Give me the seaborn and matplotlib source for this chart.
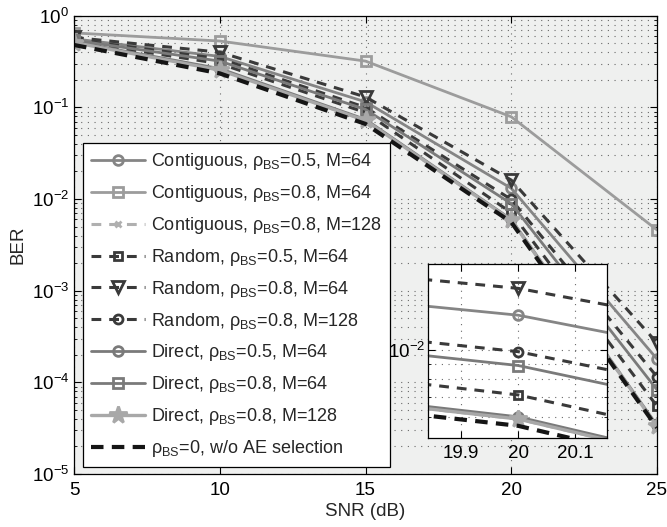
import numpy as np
import pandas as pd
import matplotlib
matplotlib.use("Agg")
import matplotlib.pyplot as plt
import matplotlib.ticker as mticker
import seaborn as sns

# === data ===
snr = [5, 10, 15, 20, 25]
contig_05_64 = [0.56, 0.36, 0.115, 0.0131, 1.8e-4]
contig_08_64 = [0.65, 0.53, 0.32, 0.079, 4.6e-3]
contig_08_128 = [0.52, 0.26, 0.072, 0.0059, 3.3e-5]
random_05_64 = [0.53, 0.30, 0.088, 0.0071, 5.5e-5]
random_08_64 = [0.58, 0.40, 0.13, 0.0161, 2.7e-4]
random_08_128 = [0.55, 0.34, 0.10, 0.0099, 1.15e-4]
direct_05_64 = [0.52, 0.265, 0.074, 0.0060, 3.4e-5]
direct_08_64 = [0.54, 0.32, 0.095, 0.0089, 8.3e-5]
direct_08_128 = [0.51, 0.255, 0.072, 0.0059, 3.3e-5]
no_selection = [0.48, 0.235, 0.066, 0.0056, 3.2e-5]

labels = [
    "Contiguous, ρ$_\\mathregular{BS}$=0.5, M=64",
    "Contiguous, ρ$_\\mathregular{BS}$=0.8, M=64",
    "Contiguous, ρ$_\\mathregular{BS}$=0.8, M=128",
    "Random, ρ$_\\mathregular{BS}$=0.5, M=64",
    "Random, ρ$_\\mathregular{BS}$=0.8, M=64",
    "Random, ρ$_\\mathregular{BS}$=0.8, M=128",
    "Direct, ρ$_\\mathregular{BS}$=0.5, M=64",
    "Direct, ρ$_\\mathregular{BS}$=0.8, M=64",
    "Direct, ρ$_\\mathregular{BS}$=0.8, M=128",
    "ρ$_\\mathregular{BS}$=0, w/o AE selection",
]
series = [contig_05_64, contig_08_64, contig_08_128, random_05_64, random_08_64,
          random_08_128, direct_05_64, direct_08_64, direct_08_128, no_selection]

dash = (0, (3.2, 2.6))
# color, linestyle, marker, markersize, filled, linewidth
styles = [
    ("#858585", "-", "o", 7, False, 2.0),
    ("#9c9c9c", "-", "s", 6.5, False, 2.0),
    ("#b0b0b0", dash, "x", 5, False, 2.2),
    ("#3a3a3a", dash, "s", 6, False, 2.2),
    ("#3a3a3a", dash, "v", 8, False, 2.2),
    ("#3a3a3a", dash, "o", 6.5, False, 2.2),
    ("#7a7a7a", "-", "o", 7, False, 2.0),
    ("#7a7a7a", "-", "s", 6.5, False, 2.0),
    ("#a8a8a8", "-", "*", 13, True, 2.4),
    ("#151515", (0, (3, 2)), None, 0, False, 3.0),
]

sns.set_theme(style="ticks")
plt.rcParams["font.family"] = ["Liberation Sans", "DejaVu Sans"]
plt.rcParams["mathtext.default"] = "regular"
plt.rcParams["axes.unicode_minus"] = False

FS = 13.5


def draw(ax, with_labels):
    for vals, lab, (c, ls, m, ms, filled, lw) in zip(series, labels, styles):
        kw = dict(color=c, linestyle=ls, linewidth=lw, markersize=ms,
                  markeredgecolor=c, markeredgewidth=2.0,
                  markerfacecolor=c if filled else "none")
        if m is not None:
            kw["marker"] = m
        if with_labels:
            kw["label"] = lab
        sns.lineplot(x=snr, y=vals, ax=ax, legend=False, **kw)


def style_axes(ax, grid_color="#6a6a6a"):
    ax.set_yscale("log")
    ax.tick_params(which="both", direction="in", top=True, right=True,
                   colors="black", labelsize=FS)
    ax.tick_params(which="major", length=5, width=0.8)
    ax.tick_params(which="minor", length=2.5, width=0.6)
    ax.grid(True, which="major", linestyle=(0, (1, 5)), color=grid_color, linewidth=0.8)
    ax.grid(True, which="minor", axis="y", linestyle=(0, (1, 5)), color=grid_color, linewidth=0.8)
    for sp in ax.spines.values():
        sp.set_color("black")
        sp.set_linewidth(0.9)


fig = plt.figure(figsize=(6.67, 5.27), dpi=100)
ax = fig.add_axes([0.111, 0.1006, 0.874, 0.8695])
ax.set_facecolor("#eff0ef")
draw(ax, True)
style_axes(ax)
ax.set_xlim(5, 25)
ax.set_ylim(1e-5, 1)
ax.set_xticks([5, 10, 15, 20, 25])
ax.yaxis.set_major_locator(mticker.LogLocator(base=10, numticks=10))
ax.yaxis.set_minor_locator(mticker.LogLocator(base=10, subs=np.arange(2, 10), numticks=20))
ax.yaxis.set_minor_formatter(mticker.NullFormatter())
ax.tick_params(axis="x", pad=6)
ax.set_xlabel("SNR (dB)", fontsize=FS, labelpad=3)
ax.set_ylabel("BER", fontsize=FS, labelpad=4)

leg = ax.legend(loc="lower left", bbox_to_anchor=(0.0154, 0.0153), borderaxespad=0,
                fontsize=13, frameon=True, fancybox=False, framealpha=1,
                edgecolor="black", handlelength=3.0, handletextpad=0.3,
                labelspacing=0.6, borderpad=0.45)
leg.get_frame().set_linewidth(0.9)
leg.set_zorder(10)

# === inset zoom around SNR = 20 dB ===
axin = fig.add_axes([0.6417, 0.1689, 0.2684, 0.330])
axin.set_facecolor("white")
draw(axin, False)
style_axes(axin)
axin.set_xlim(19.843, 20.155)
axin.set_ylim(5.1e-3, 1.94e-2)
axin.set_xticks([19.9, 20, 20.1])
axin.xaxis.set_major_formatter(mticker.FormatStrFormatter("%g"))
axin.yaxis.set_major_locator(mticker.FixedLocator([1e-2]))
axin.yaxis.set_minor_locator(mticker.LogLocator(base=10, subs=np.arange(2, 10), numticks=20))
axin.yaxis.set_minor_formatter(mticker.NullFormatter())
axin.tick_params(axis="y", which="major", pad=2)
axin.tick_params(axis="x", pad=5)
axin.set_zorder(5)

plt.savefig("out.png", dpi=100)
